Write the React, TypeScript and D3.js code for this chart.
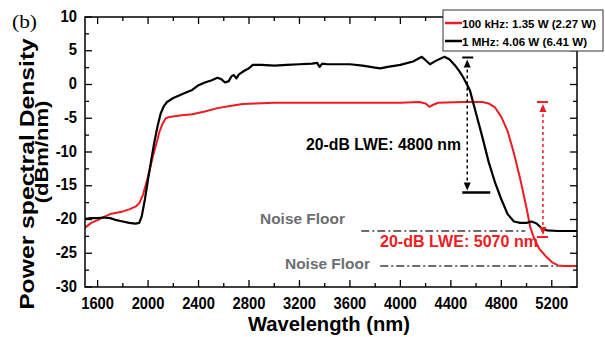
import React from "react";
import * as d3 from "d3";

// ---- data ----
const blackWl = [1500,1550,1600,1650,1700,1750,1800,1850,1900,1930,1950,1975,2000,2025,2050,2075,2100,2125,2150,2200,2250,2300,2350,2400,2450,2500,2550,2580,2610,2640,2660,2680,2700,2720,2760,2800,2830,2900,3000,3100,3200,3300,3340,3360,3380,3420,3500,3600,3700,3800,3840,3900,4000,4100,4170,4200,4235,4280,4350,4390,4430,4470,4500,4550,4600,4650,4700,4750,4800,4850,4900,4950,5000,5040,5080,5120,5160,5250,5400];
const blackDb = [-19.9,-19.8,-19.8,-19.7,-19.8,-20.1,-20.3,-20.5,-20.6,-20.5,-19.5,-17.0,-14.0,-11.2,-8.5,-6.2,-4.3,-3.2,-2.6,-2.0,-1.6,-1.2,-0.8,-0.1,0.3,0.6,1.0,0.8,0.3,0.5,1.2,1.4,0.9,1.5,2.0,2.4,2.9,2.9,2.8,2.9,3.0,3.1,3.2,2.6,3.1,3.0,3.0,3.0,2.8,2.5,2.4,2.6,2.9,3.4,4.1,3.6,3.0,3.5,4.1,3.7,2.9,1.9,1.0,-0.8,-4.3,-7.8,-11.5,-14.5,-17.0,-19.2,-20.3,-20.5,-20.5,-20.3,-20.6,-21.3,-21.6,-21.7,-21.7];

const redWl = [1500,1550,1600,1650,1700,1750,1800,1850,1900,1930,1960,1990,2015,2040,2065,2090,2115,2140,2170,2250,2350,2450,2550,2650,2750,2850,3000,3200,3400,3600,3800,4000,4150,4200,4230,4260,4300,4500,4650,4700,4750,4800,4850,4900,4950,5000,5030,5060,5100,5150,5200,5250,5300,5400];
const redDb = [-21.2,-20.5,-20.1,-19.6,-19.2,-19.0,-18.8,-18.5,-18.1,-17.6,-16.3,-14.3,-12.5,-10.5,-8.8,-7.0,-5.8,-5.0,-4.8,-4.6,-4.4,-4.0,-3.5,-3.2,-2.9,-2.8,-2.7,-2.7,-2.7,-2.7,-2.7,-2.7,-2.6,-2.8,-3.3,-3.0,-2.7,-2.6,-2.6,-2.8,-3.4,-4.8,-6.9,-10.2,-14.0,-18.3,-21.2,-22.8,-24.3,-25.4,-26.3,-26.8,-26.9,-26.9];

const xTickLabels = [1600,2000,2400,2800,3200,3600,4000,4400,4800,5200];
const xMinorTicks = [1800,2200,2600,3000,3400,3800,4200,4600,5000];
const yTickLabels = [-30,-25,-20,-15,-10,-5,0,5,10];
const yMinorTicks = [-27.5,-22.5,-17.5,-12.5,-7.5,-2.5,2.5,7.5];

const legendLabels = ["100 kHz: 1.35 W (2.27 W)", "1 MHz: 4.06 W (6.41 W)"];
const seriesColors = ["#ed1c24", "#000000"];

// annotation values (data units)
const blackArrow = { wl: 4530, top: 4.0, bottom: -16.0 };
const redArrow = { wl: 5130, top: -2.6, bottom: -22.6 };
const noise1 = { from: 3690, to: 4990, db: -21.7 };
const noise2 = { from: 3840, to: 5250, db: -26.9 };

const W = 605, H = 337;
const FONT = "'Liberation Sans', Arial, Helvetica, sans-serif";

const labelWidth = (s: string) => {
  let w = 0;
  for (const c of s) w += c === "-" ? 4.9 : 8.2;
  return w;
};

export default function App() {
  const x = d3.scaleLinear().domain([1500, 5400]).range([85, 577]);
  const y = d3.scaleLinear().domain([-30, 10]).range([287, 17]);
  const line = d3.line<[number, number]>().x(d => x(d[0])).y(d => y(d[1]));
  const blackPts = blackWl.map((w, i) => [w, blackDb[i]] as [number, number]);
  const redPts = redWl.map((w, i) => [w, redDb[i]] as [number, number]);
  const [x0, x1] = x.range();
  const [yb, yt] = y.range();
  const gray = "#6d6e71";

  const arrowUp = (cx: number, tip: number) =>
    `M${cx},${tip} L${cx - 3.5},${tip + 8} L${cx + 3.5},${tip + 8} Z`;
  const arrowDown = (cx: number, tip: number) =>
    `M${cx},${tip} L${cx - 3.5},${tip - 8} L${cx + 3.5},${tip - 8} Z`;

  const bx = x(blackArrow.wl), byT = y(blackArrow.top), byB = y(blackArrow.bottom);
  const rx = x(redArrow.wl), ryT = y(redArrow.top), ryB = y(redArrow.bottom);

  return (
    <svg width={W} height={H} style={{ position: "absolute", left: 0, top: 0, background: "#fff" }} fontFamily={FONT}>
      <rect x={0} y={0} width={W} height={H} fill="#fff" />
      {/* (b) label */}
      <text x={12} y={28} fontFamily="'Liberation Serif', 'DejaVu Serif', serif" fontSize={18} textLength={25} lengthAdjust="spacingAndGlyphs">(b)</text>

      <defs>
        <clipPath id="clip"><rect x={x0} y={yt} width={x1 - x0} height={yb - yt} /></clipPath>
      </defs>
      {/* curves */}
      <g clipPath="url(#clip)">
        <path d={line(redPts) || ""} fill="none" stroke={seriesColors[0]} strokeWidth={2} strokeLinejoin="round" />
        <path d={line(blackPts) || ""} fill="none" stroke={seriesColors[1]} strokeWidth={2.2} strokeLinejoin="round" />
      </g>

      {/* frame */}
      <rect x={x0} y={yt} width={x1 - x0} height={yb - yt} fill="none" stroke="#000" strokeWidth={1.5} />
      {xTickLabels.map(t => (
        <g key={"xt" + t}>
          <line x1={x(t)} x2={x(t)} y1={yb} y2={yb - 7} stroke="#000" strokeWidth={1.3} />
          <line x1={x(t)} x2={x(t)} y1={yt} y2={yt + 7} stroke="#000" strokeWidth={1.3} />
          <text x={x(t)} y={309} textAnchor="middle" fontSize={17} fontWeight="bold" textLength={labelWidth(String(t))} lengthAdjust="spacingAndGlyphs">{t}</text>
        </g>
      ))}
      {xMinorTicks.map(t => (
        <g key={"xm" + t}>
          <line x1={x(t)} x2={x(t)} y1={yb} y2={yb - 4} stroke="#000" strokeWidth={1.3} />
          <line x1={x(t)} x2={x(t)} y1={yt} y2={yt + 4} stroke="#000" strokeWidth={1.3} />
        </g>
      ))}
      {yTickLabels.map(t => (
        <g key={"yt" + t}>
          <line x1={x0} x2={x0 + 7} y1={y(t)} y2={y(t)} stroke="#000" strokeWidth={1.3} />
          <line x1={x1} x2={x1 - 7} y1={y(t)} y2={y(t)} stroke="#000" strokeWidth={1.3} />
          <text x={77} y={y(t) + 4.5} textAnchor="end" fontSize={17} fontWeight="bold" textLength={labelWidth(String(t))} lengthAdjust="spacingAndGlyphs">{t}</text>
        </g>
      ))}
      {yMinorTicks.map(t => (
        <g key={"ym" + t}>
          <line x1={x0} x2={x0 + 4} y1={y(t)} y2={y(t)} stroke="#000" strokeWidth={1.3} />
          <line x1={x1} x2={x1 - 4} y1={y(t)} y2={y(t)} stroke="#000" strokeWidth={1.3} />
        </g>
      ))}

      {/* axis titles */}
      <text x={329} y={331} textAnchor="middle" fontSize={20} fontWeight="bold" textLength={162} lengthAdjust="spacingAndGlyphs">Wavelength (nm)</text>
      <text transform="translate(34,174) scale(0.8,1) rotate(-90)" textAnchor="middle" fontSize={24.7} fontWeight="bold">Power spectral Density</text>
      <text transform="translate(48,152) scale(0.8,1) rotate(-90)" textAnchor="middle" fontSize={22} fontWeight="bold">(dBm/nm)</text>

      {/* noise floors */}
      <line x1={x(noise1.from)} x2={x(noise1.to)} y1={y(noise1.db)} y2={y(noise1.db)} stroke={gray} strokeWidth={2} strokeDasharray="8,3,2,3" />
      <line x1={x(noise2.from)} x2={x(noise2.to)} y1={y(noise2.db)} y2={y(noise2.db)} stroke={gray} strokeWidth={2} strokeDasharray="8,3,2,3" />
      <text x={260} y={224} fontSize={15.5} fontWeight="bold" fill={gray} textLength={85} lengthAdjust="spacingAndGlyphs">Noise Floor</text>
      <text x={285} y={269} fontSize={15.5} fontWeight="bold" fill={gray} textLength={85} lengthAdjust="spacingAndGlyphs">Noise Floor</text>

      {/* black 20-dB arrow */}
      <line x1={bx} x2={bx} y1={byT + 6} y2={byB - 6} stroke="#000" strokeWidth={1.5} strokeDasharray="3,3" />
      <line x1={bx - 5} x2={bx + 6} y1={byT} y2={byT} stroke="#000" strokeWidth={2} />
      <path d={arrowUp(bx, byT + 2)} fill="#000" />
      <line x1={bx - 5} x2={bx + 23} y1={byB} y2={byB} stroke="#000" strokeWidth={2.5} />
      <path d={arrowDown(bx, byB - 2)} fill="#000" />
      <text x={461} y={150} textAnchor="end" fontSize={16.5} fontWeight="bold" textLength={155} lengthAdjust="spacingAndGlyphs">20-dB LWE: 4800 nm</text>

      {/* red 20-dB arrow */}
      <line x1={rx} x2={rx} y1={ryT + 6} y2={ryB - 6} stroke={seriesColors[0]} strokeWidth={1.5} strokeDasharray="3,3" />
      <line x1={rx - 6} x2={rx + 5} y1={ryT} y2={ryT} stroke={seriesColors[0]} strokeWidth={2} />
      <path d={arrowUp(rx, ryT + 2)} fill={seriesColors[0]} />
      <line x1={rx - 6} x2={rx + 5} y1={ryB} y2={ryB} stroke={seriesColors[0]} strokeWidth={2} />
      <path d={arrowDown(rx, ryB - 2)} fill={seriesColors[0]} />
      <text x={380} y={247} fontSize={16} fontWeight="bold" fill={seriesColors[0]} textLength={158} lengthAdjust="spacingAndGlyphs">20-dB LWE: 5070 nm</text>

      {/* legend */}
      <rect x={443} y={10} width={160} height={41} fill="#fff" stroke="#333" strokeWidth={1} />
      {legendLabels.map((l, i) => (
        <g key={l}>
          <line x1={445} x2={462} y1={23 + i * 18} y2={23 + i * 18} stroke={seriesColors[i]} strokeWidth={2.5} />
          <text x={462} y={27.5 + i * 18} fontSize={11.5} fontWeight="bold" textLength={i === 0 ? 134 : 125} lengthAdjust="spacingAndGlyphs">{l}</text>
        </g>
      ))}
    </svg>
  );
}
